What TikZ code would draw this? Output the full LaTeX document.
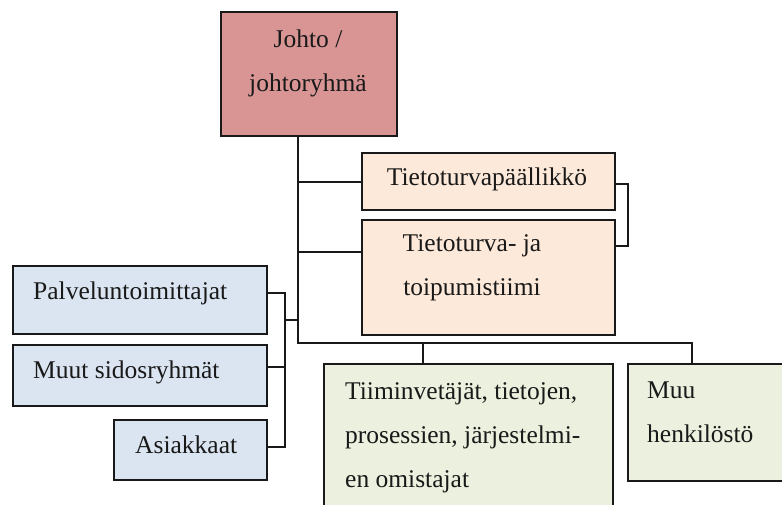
\documentclass[tikz,border=0pt]{standalone}
\usepackage{fontspec}
\setmainfont{Liberation Serif}
\usetikzlibrary{positioning}

\definecolor{cJohto}{HTML}{D99594}
\definecolor{cPeach}{HTML}{FDE9D9}
\definecolor{cBlue}{HTML}{DBE5F1}
\definecolor{cGreen}{HTML}{EBF1DE}

\begin{document}
\begin{tikzpicture}[
  x=1pt, y=-1pt,
  box/.style={draw=black!90, line width=1.6pt, inner sep=0pt, anchor=north west},
  txt/.style={inner sep=0pt, anchor=base, text=black!90, font=\fontsize{25.5}{44}\selectfont},
  con/.style={line width=1.4pt, black!90}
]
\clip (0,0) rectangle (782,505);
\fill[white] (0,0) rectangle (782,505);

% boxes (multi-line texts sit on their last baseline)
\node[box, fill=cJohto, minimum width=176, minimum height=124] (johto) at (220,11) {};
\node[txt, align=center] (johtoT) at (308,92) {Johto /\\johtoryhmä};
\node[box, fill=cPeach, minimum width=253, minimum height=57] (ttp) at (361,152) {};
\node[txt] (ttpT) at (487,186) {Tietoturvapäällikkö};
\node[box, fill=cPeach, minimum width=253, minimum height=115] (tiimi) at (361,219) {};
\node[txt, align=center] (tiimiT) at (472,295) {Tietoturva- ja\\toipumistiimi};
\node[box, fill=cBlue, minimum width=254, minimum height=68] (pal) at (12,265) {};
\node[txt, anchor=base west] (palT) at (33,299) {Palveluntoimittajat};
\node[box, fill=cBlue, minimum width=254, minimum height=61] (sid) at (12,344) {};
\node[txt, anchor=base west] (sidT) at (33,378) {Muut sidosryhmät};
\node[box, fill=cBlue, minimum width=153, minimum height=60] (asi) at (113,419) {};
\node[txt, anchor=base west] (asiT) at (135,453) {Asiakkaat};
\node[box, fill=cGreen, minimum width=289, minimum height=170] (omist) at (323,363) {};
\node[txt, align=left, anchor=base west] (omistT) at (345,487) {Tiiminvetäjät, tietojen,\\prosessien, järjestelmi-\\en omistajat};
\node[box, fill=cGreen, minimum width=200, minimum height=117] (hlo) at (627,363) {};
\node[txt, align=left, anchor=base west] (hloT) at (647,442) {Muu\\henkilöstö};

% connector points
\coordinate (tk) at (298,343);
\coordinate (d1) at (423,343);
\coordinate (d2) at (692,343);
\coordinate (b1) at (361,182);
\coordinate (b2) at (361,252);
\coordinate (rt) at (628,184);
\coordinate (rb) at (628,246);
\coordinate (lt) at (285,293);
\coordinate (lm) at (285,367);
\coordinate (lb) at (285,447);
\coordinate (lj) at (285,320);

% connectors
\draw[con] (johto.south -| tk) -- (tk) -- (d2) -- (d2 |- hlo.north);
\draw[con] (d1) -- (d1 |- omist.north);
\draw[con] (tk |- b1) -- (b1);
\draw[con] (tk |- b2) -- (b2);
\draw[con] (ttp.east |- rt) -- (rt) -- (rb) -- (tiimi.east |- rb);
\draw[con] (pal.east |- lt) -- (lt) -- (lb) -- (asi.east |- lb);
\draw[con] (sid.east |- lm) -- (lm);
\draw[con] (lj) -- (tk |- lj);
\end{tikzpicture}
\end{document}
